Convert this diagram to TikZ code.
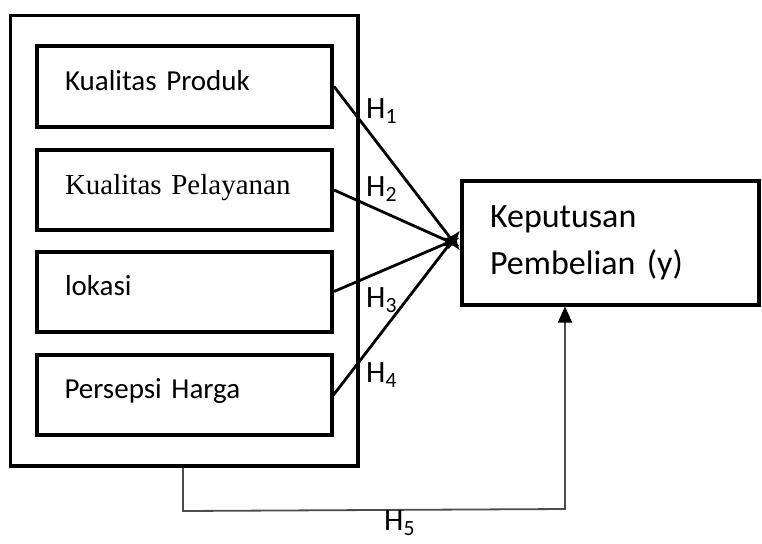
\documentclass[tikz,border=0pt]{standalone}
\usepackage{fontspec}
\setmainfont{Carlito}[WordSpace=0.8]
\newfontfamily\timesfont{Liberation Serif}[WordSpace=0.8]
\usetikzlibrary{arrows.meta,positioning,fit}

\begin{document}
\begin{tikzpicture}[x=1pt,y=-1pt,
	varbox/.style={draw, line width=4pt, inner xsep=28pt, text width=239pt, minimum height=80pt, text depth=12pt, align=left, font=\fontsize{29}{32}\selectfont},
	goalbox/.style={draw, line width=4pt, inner xsep=28pt, text width=241pt, minimum height=124pt, align=left, font=\fontsize{34}{47}\selectfont},
	hlabel/.style={anchor=west, inner sep=0pt, font=\fontsize{31}{34}\selectfont},
	hyp/.style={line width=2.8pt, -{Latex[length=15pt,width=13pt]}}
	]
	\useasboundingbox (0,0) rectangle (762,543);
	
	\node[varbox] (produk) at (184.5,86.5) {Kualitas Produk};
	\node[varbox, font=\timesfont\fontsize{29}{32}\selectfont] (layanan) at (184.5,190) {Kualitas Pelayanan};
	\node[varbox] (lokasi) at (184.5,291.5) {lokasi};
	\node[varbox] (harga) at (184,395) {Persepsi Harga};
	\node[draw, line width=3.5pt, inner xsep=24pt, inner ysep=29pt, fit=(produk)(harga)] (grup) {};
	
	\node[goalbox] (beli) at (610.5,242.5) {Keputusan\\Pembelian (y)};
	
	\draw[hyp] (produk.east) -- ([yshift=-8pt]beli.west);
	\draw[hyp] (layanan.east) -- ([yshift=-4pt]beli.west);
	\draw[hyp] (lokasi.east) -- ([yshift=5pt]beli.west);
	\draw[hyp] (harga.east) -- ([yshift=12pt]beli.west);
	
	\node[hlabel] (h1) at (366,111) {H\textsubscript{1}};
	\node[hlabel] (h2) at (366,189) {H\textsubscript{2}};
	\node[hlabel] (h3) at (366,300) {H\textsubscript{3}};
	\node[hlabel] (h4) at (366,375) {H\textsubscript{4}};
	
	% jalur langsung dari kelompok variabel
	\coordinate (belok) at (183,511);
	\coordinate (naik) at (565,509);
	\draw[line width=1.8pt, black!70, -{Triangle[length=16pt,width=14pt,color=black]}] (grup.south -| belok) -- (belok) -- (naik) -- (naik |- beli.south);
	\node[hlabel] (h5) at (384,523) {H\textsubscript{5}};
\end{tikzpicture}
\end{document}
